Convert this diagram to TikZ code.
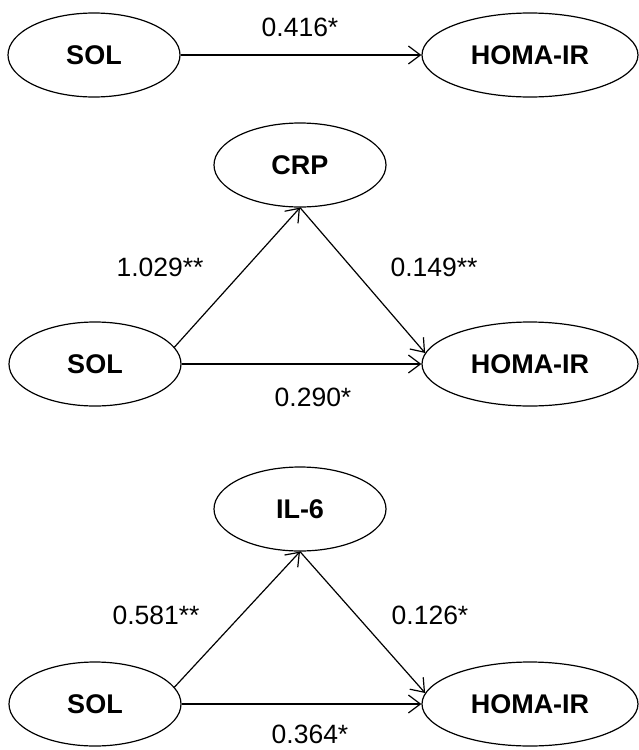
\documentclass[tikz,border=0pt]{standalone}
\usepackage{fontspec}
\setmainfont{Liberation Sans}
\usetikzlibrary{arrows.meta,shapes.geometric}
\begin{document}
\begin{tikzpicture}[x=1pt,y=-1pt,
  var/.style={draw,ellipse,line width=1.2pt,inner sep=0pt,minimum height=84pt,font=\fontsize{27}{30}\selectfont\bfseries},
  smallvar/.style={var,minimum width=172pt},
  widevar/.style={var,minimum width=216pt},
  coef/.style={font=\fontsize{26.5}{30}\selectfont,inner sep=0pt},
  effect/.style={line width=1.2pt,-{Straight Barb[length=12pt,width=18pt,line width=1.2pt]}}]
\useasboundingbox (0,0) rectangle (638,750);
% Panel 1
\node[smallvar] (sol1) at (94,55) {SOL};
\node[widevar] (homa1) at (530,55) {HOMA-IR};
\draw[effect] (sol1.east) -- (homa1.west);
\node[coef] (c1) at (300,27) {0.416*};
% Panel 2
\node[smallvar] (crp) at (300,165) {CRP};
\node[smallvar] (sol2) at (95,364) {SOL};
\node[widevar] (homa2) at (530,364) {HOMA-IR};
\draw[effect] (sol2.12) -- (crp.south);
\draw[effect] (crp.south) -- (homa2.174);
\draw[effect] (sol2.east) -- (homa2.west);
\node[coef] (c2a) at (160,267) {1.029**};
\node[coef] (c2b) at (434,267) {0.149**};
\node[coef] (c2c) at (313,397) {0.290*};
% Panel 3
\node[smallvar] (il6) at (300,509) {IL-6};
\node[smallvar] (sol3) at (95,704) {SOL};
\node[widevar] (homa3) at (530,704) {HOMA-IR};
\draw[effect] (sol3.12) -- (il6.south);
\draw[effect] (il6.south) -- (homa3.174);
\draw[effect] (sol3.east) -- (homa3.west);
\node[coef] (c3a) at (156,615) {0.581**};
\node[coef] (c3b) at (430,615) {0.126*};
\node[coef] (c3c) at (310,734) {0.364*};
\end{tikzpicture}
\end{document}
